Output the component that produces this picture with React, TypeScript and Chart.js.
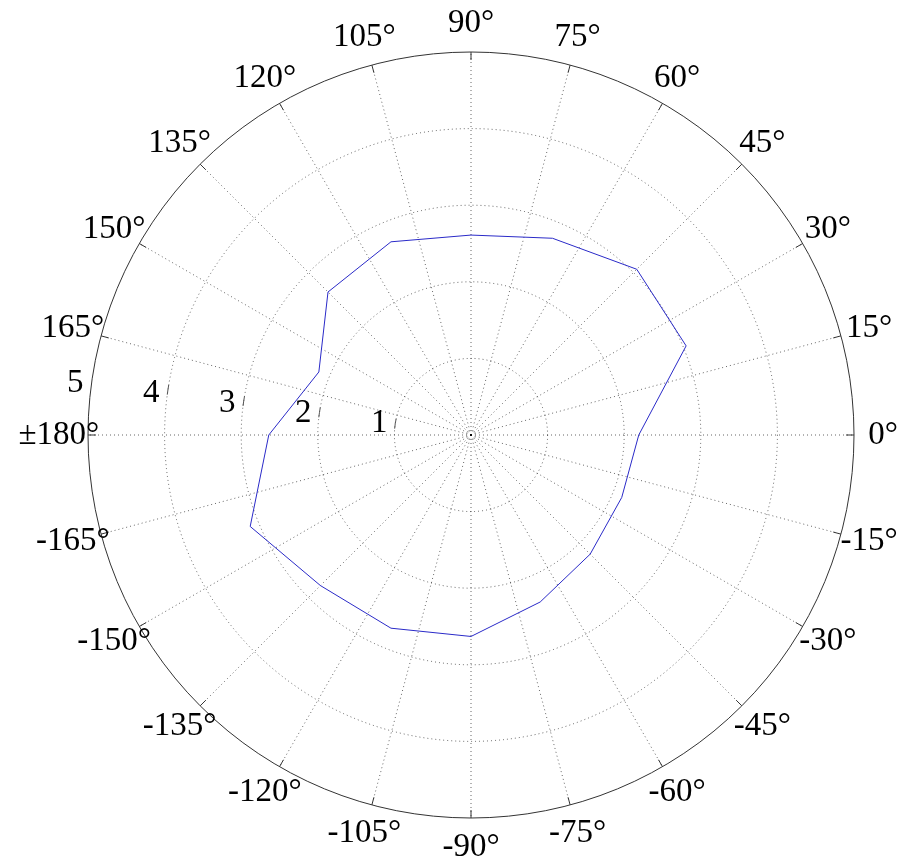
import React, { useEffect, useRef } from 'react';
import { Chart, registerables } from 'chart.js';

Chart.register(...registerables);

// Data: angle (degrees, counter-clockwise from +x) and radius
const dataAngles = [0, 22.5, 45, 67.5, 90, 112.5, 135, 157.5, 180, 202.5, 225, 247.5, 270, 292.5, 315, 337.5];
const dataRadii = [2.19, 3.04, 3.06, 2.78, 2.61, 2.73, 2.64, 2.15, 2.64, 3.12, 2.78, 2.73, 2.63, 2.36, 2.2, 2.13];

// Spokes and their labels
const spokeAngles = [0, 15, 30, 45, 60, 75, 90, 105, 120, 135, 150, 165, 180, 195, 210, 225, 240, 255, 270, 285, 300, 315, 330, 345];
const spokeLabels = ['0°', '15°', '30°', '45°', '60°', '75°', '90°', '105°', '120°', '135°', '150°', '165°', '±180°',
  '-165°', '-150°', '-135°', '-120°', '-105°', '-90°', '-75°', '-60°', '-45°', '-30°', '-15°'];

// Rings
const ringValues = [1, 2, 3, 4, 5];
const ringLabels = ['1', '2', '3', '4', '5'];
const rMax = 5;

const STEP = 7.5; // angular resolution of the radial scale's categories
const N = 360 / STEP;
const idxFor = (deg: number) => (((N - Math.round(deg / STEP)) % N) + N) % N;

const FONT = '33px "Liberation Serif", "Times New Roman", serif';

const polarDecor = {
  id: 'polarDecor',
  afterDraw(chart: any) {
    const s = chart.scales.r;
    const ctx = chart.ctx;
    ctx.save();
    const outer = s.getDistanceFromCenterForValue(rMax);
    // tick marks at outer circle
    ctx.strokeStyle = '#333';
    ctx.lineWidth = 1;
    ctx.setLineDash([]);
    spokeAngles.forEach((a) => {
      const i = idxFor(a);
      const p1 = s.getPointPosition(i, outer);
      const p2 = s.getPointPosition(i, outer - 8);
      ctx.beginPath();
      ctx.moveTo(p1.x, p1.y);
      ctx.lineTo(p2.x, p2.y);
      ctx.stroke();
    });
    // short solid arcs near ring labels
    ctx.strokeStyle = '#555';
    ringValues.forEach((v) => {
      if (v === rMax) return;
      const r = s.getDistanceFromCenterForValue(v);
      const mid = Math.PI + (8.5 * Math.PI) / 180;
      const half = 5 / r;
      ctx.beginPath();
      ctx.arc(s.xCenter, s.yCenter, r, mid - half, mid + half);
      ctx.stroke();
    });
    // angle labels
    ctx.fillStyle = '#000';
    ctx.font = FONT;
    ctx.textAlign = 'center';
    ctx.textBaseline = 'middle';
    const labDist = s.getDistanceFromCenterForValue(5.38);
    spokeAngles.forEach((a, k) => {
      const p = s.getPointPosition(idxFor(a), labDist);
      ctx.fillText(spokeLabels[k], p.x, p.y);
    });
    // ring labels
    ringValues.forEach((v, k) => {
      const d = s.getDistanceFromCenterForValue(v) + 16;
      const p = s.getPointPosition(idxFor(180), d, (7.4 * Math.PI) / 180);
      ctx.fillText(ringLabels[k], p.x, p.y);
    });
    ctx.restore();
  },
};

export default function App() {
  const ref = useRef<HTMLCanvasElement | null>(null);
  useEffect(() => {
    if (!ref.current) return;
    const labels = Array.from({ length: N }, (_, i) => String(i));
    const values: (number | null)[] = Array(N).fill(null);
    dataAngles.forEach((a, k) => {
      values[idxFor(a)] = dataRadii[k];
    });
    const chart = new Chart(ref.current, {
      type: 'radar',
      data: {
        labels,
        datasets: [
          {
            data: values,
            borderColor: '#2a2ac8',
            borderWidth: 1,
            pointRadius: 0,
            pointHoverRadius: 0,
            fill: false,
            spanGaps: true,
            tension: 0,
          },
        ],
      },
      options: {
        responsive: false,
        animation: false,
        events: [],
        layout: { padding: { left: 88, right: 49, top: 52, bottom: 47 } },
        plugins: { legend: { display: false }, tooltip: { enabled: false } },
        scales: {
          r: {
            startAngle: 90,
            min: 0,
            max: rMax,
            ticks: { display: false, stepSize: 1 },
            pointLabels: { display: false },
            grid: {
              circular: true,
              lineWidth: 1,
              color: (c: any) => (c.tick && c.tick.value === rMax ? '#333' : 'rgba(0,0,0,0.6)'),
            },
            border: {
              dash: (c: any) => (c.tick && c.tick.value === rMax ? [] : [1, 3]),
            },
            angleLines: {
              display: true,
              lineWidth: 1,
              borderDash: [1, 3],
              color: (c: any) => (c.index % 2 === 0 ? 'rgba(0,0,0,0.6)' : 'rgba(0,0,0,0)'),
            },
          },
        },
      },
      plugins: [polarDecor],
    } as any);
    return () => chart.destroy();
  }, []);
  return (
    <div style={{ position: 'absolute', left: 0, top: 0, width: 903, height: 865, background: '#fff' }}>
      <canvas ref={ref} width={903} height={865} style={{ width: 903, height: 865, display: 'block' }} />
    </div>
  );
}
